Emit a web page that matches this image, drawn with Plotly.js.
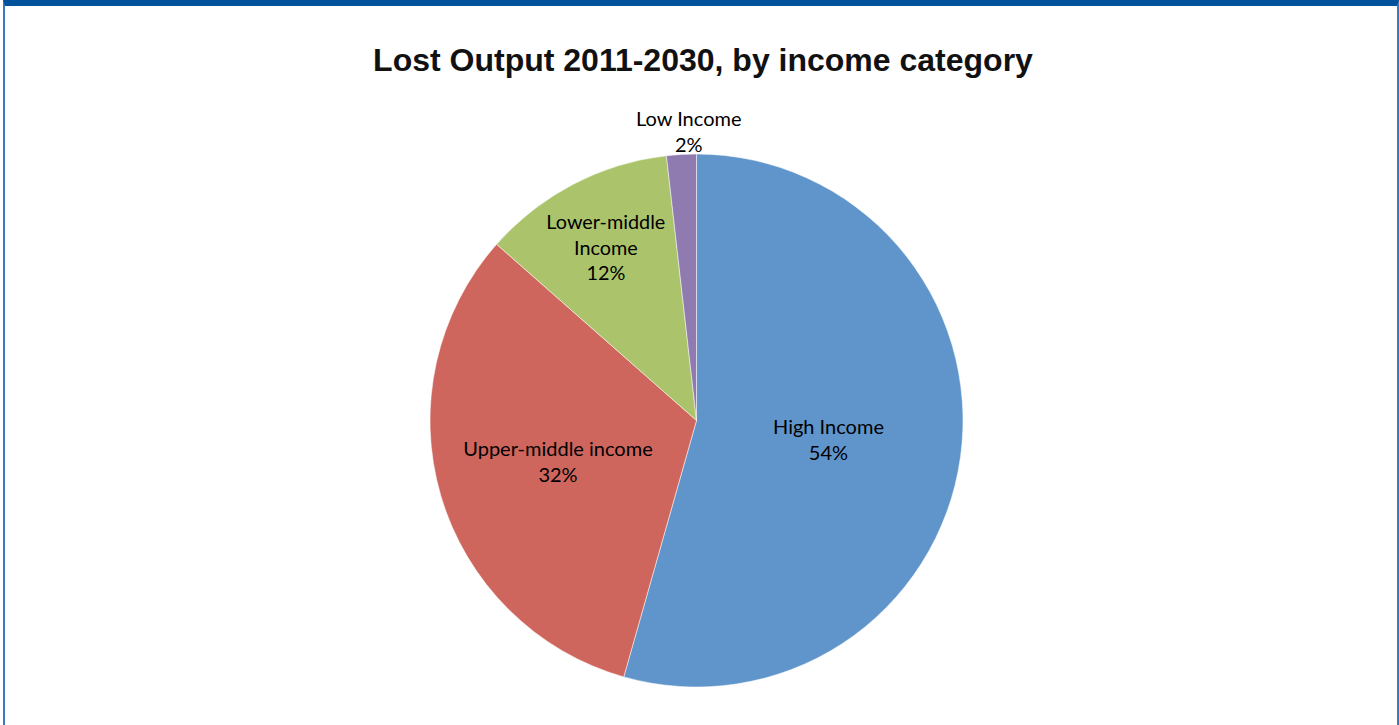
<!DOCTYPE html>
<html>
<head>
<meta charset="utf-8">
<script src="https://cdn.plot.ly/plotly-3.0.1.min.js"></script>
<style>
html,body{margin:0;padding:0;background:#fff;}
#wrap{position:relative;width:1399px;height:725px;overflow:hidden;}
#chart{position:absolute;left:0;top:0;width:1399px;height:725px;}
#frame{position:absolute;left:3px;top:0;width:1396px;height:725px;border-left:2px solid #3a7cc3;border-right:2px solid #3a7cc3;border-top:6px solid #00529b;box-sizing:border-box;pointer-events:none;}
</style>
</head>
<body>
<div id="wrap"><div id="chart"></div><div id="frame"></div></div>
<script>
const categories = ["High Income", "Upper-middle income", "Lower-middle Income", "Low Income"];
const labelText = ["High Income<br>54%", "Upper-middle income<br>32%", "Lower-middle<br>Income<br>12%", "Low Income<br>2%"];
const shares = [54.4, 32.1, 11.7, 1.8];
const colors = ["#6095cb", "#cf665d", "#abc46b", "#907bb1"];

const labelFont = {family: "Lato, 'Open Sans', sans-serif", size: 20, color: "#000000"};

const trace = {
  type: "pie",
  labels: categories,
  values: shares,
  text: labelText.map((t, i) => i === 3 ? "" : t),
  textinfo: "text",
  texttemplate: "%{text}",
  textposition: ["inside", "inside", "inside", "none"],
  insidetextorientation: "horizontal",
  sort: false,
  direction: "clockwise",
  rotation: 0,
  marker: {colors: colors, line: {color: "#ffffff", width: 0.5}},
  textfont: labelFont,
  showlegend: false,
  hoverinfo: "label+percent"
};

const layout = {
  width: 1399,
  height: 725,
  margin: {l: 0, r: 6, t: 154, b: 38},
  paper_bgcolor: "#ffffff",
  title: {
    text: "<b>Lost Output 2011-2030, by income category</b>",
    font: {family: "'Liberation Sans', Arial, sans-serif", size: 32, color: "#111111"},
    x: 0.5025, xanchor: "center", y: 0.917, yanchor: "middle", yref: "container"
  },
  annotations: [{
    text: labelText[3],
    xref: "paper", yref: "paper",
    x: 0.4946, y: 1.043, xanchor: "center", yanchor: "middle",
    showarrow: false,
    font: labelFont
  }],
  showlegend: false
};

Plotly.newPlot("chart", [trace], layout, {displayModeBar: false, staticPlot: true});
</script>
</body>
</html>
